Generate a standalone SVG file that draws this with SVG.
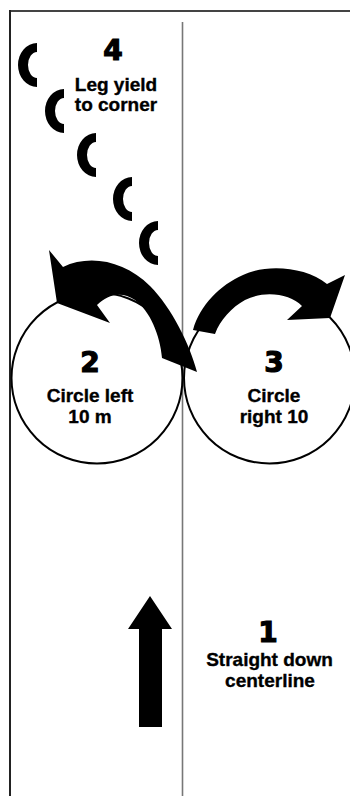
<svg xmlns="http://www.w3.org/2000/svg" xmlns:xlink="http://www.w3.org/1999/xlink" width="350" height="796" viewBox="0 0 350 796">
  <style>
    .lbl { font-family: "Liberation Sans", Arial, sans-serif; font-weight: bold; font-size: 19px; fill: #000; stroke: #000; stroke-width: 0.35; text-anchor: middle; }
    .num { font-family: "DejaVu Sans", "Liberation Sans", sans-serif; font-weight: bold; font-size: 28px; fill: #000; stroke: #000; stroke-width: 1.2; text-anchor: middle; }
    .ring { fill: none; stroke: #000; stroke-width: 2; }
    .ink { fill: #000; }
  </style>
  <defs>
    <path id="hoof" d="M19,0 A19,22 0 0 0 19,44 L19,35 A9,13 0 0 1 19,9 Z"/>
  </defs>
  <rect x="0" y="0" width="350" height="796" fill="#fff"/>
  <g id="arena">
    <line x1="9" y1="11" x2="350" y2="11" stroke="#444" stroke-width="2"/>
    <line x1="10" y1="10" x2="10" y2="796" stroke="#222" stroke-width="2"/>
    <line x1="182.5" y1="22" x2="182.5" y2="796" stroke="#777" stroke-width="1.6"/>
  </g>
  <g id="node-circle-left">
    <circle class="ring" cx="97" cy="378" r="85.5"/>
    <text class="num" x="90" y="372">2</text>
    <text class="lbl" x="90" y="402">Circle left</text>
    <text class="lbl" x="90" y="423">10 m</text>
  </g>
  <g id="node-circle-right">
    <circle class="ring" cx="269.5" cy="378" r="85.5"/>
    <text class="num" x="274" y="372">3</text>
    <text class="lbl" x="274" y="402">Circle</text>
    <text class="lbl" x="274" y="423">right 10</text>
  </g>
  <g id="node-legyield">
    <use xlink:href="#hoof" href="#hoof" class="ink" x="18" y="43"/>
    <use xlink:href="#hoof" href="#hoof" class="ink" x="45" y="89"/>
    <use xlink:href="#hoof" href="#hoof" class="ink" x="77" y="133"/>
    <use xlink:href="#hoof" href="#hoof" class="ink" x="113" y="177"/>
    <use xlink:href="#hoof" href="#hoof" class="ink" x="139" y="221"/>
    <text class="num" x="113" y="60">4</text>
    <text class="lbl" x="116" y="90.5">Leg yield</text>
    <text class="lbl" x="116" y="110.5">to corner</text>
  </g>
  <g id="node-centerline">
    <text class="num" x="268" y="642">1</text>
    <text class="lbl" x="269.5" y="665.5">Straight down</text>
    <text class="lbl" x="270" y="686.5">centerline</text>
  </g>
  <g id="connectors">
    <path class="ink" d="M150,596 L172,629 L162,629 L162,727 L139,727 L139,629 L128,629 Z"/>
    <path class="ink" d="M49,250 L63,267 C90,254 125,261 150,286 C172,308 190,345 197,372 L162,358 C160,335 150,311 135,300 C122,291 108,294 97,305 L110,323 L57,303 Z"/>
    <path class="ink" d="M193,330 C200,305 220,285 243,275 C265,264 305,266 327,284 L345,275 L330,318 L287,320 L302,306 C290,294 265,290 245,300 C232,307 220,320 215,334 Z"/>
  </g>
</svg>
